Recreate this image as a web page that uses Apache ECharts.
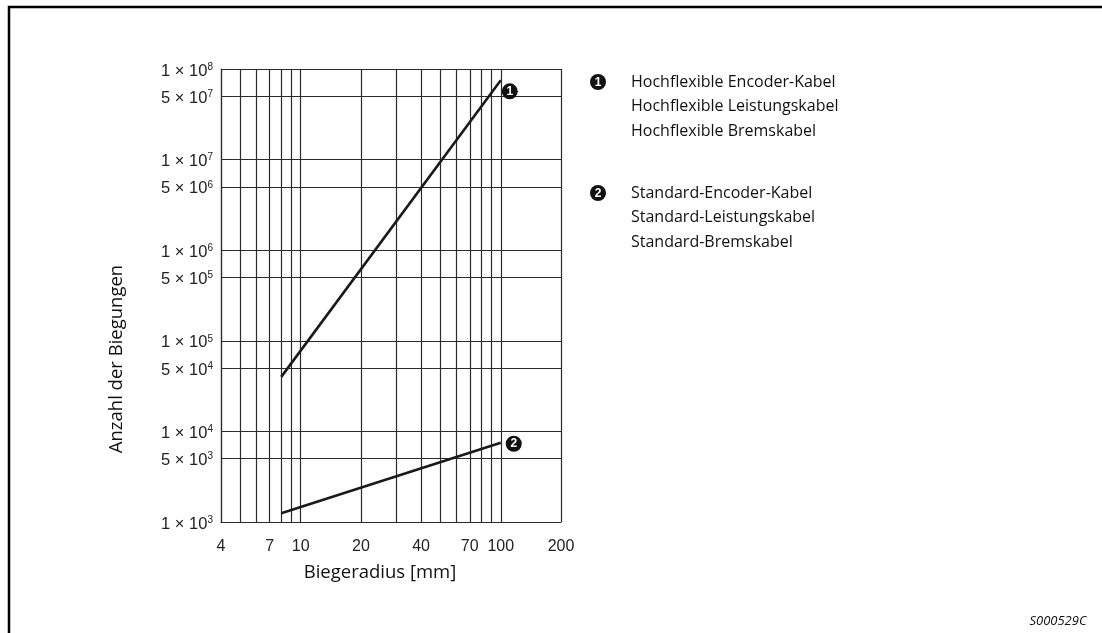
<!DOCTYPE html>
<html>
<head>
<meta charset="utf-8">
<script src="https://cdn.jsdelivr.net/npm/echarts@6/dist/echarts.min.js"></script>
<style>
html,body{margin:0;padding:0;background:#fff;}
#chart{width:1102px;height:633px;}
</style>
</head>
<body>
<div id="chart"></div>
<script>
// ---- data ----
const seriesIds = ['1', '2'];
const seriesNames = [
  ['Hochflexible Encoder-Kabel', 'Hochflexible Leistungskabel', 'Hochflexible Bremskabel'],
  ['Standard-Encoder-Kabel', 'Standard-Leistungskabel', 'Standard-Bremskabel']
];
const radius1 = [8, 100];
const bends1 = [40000, 75000000];
const radius2 = [8, 100];
const bends2 = [1250, 7500];

const xGridValues = [4, 5, 6, 7, 8, 9, 10, 20, 30, 40, 50, 60, 70, 80, 90, 100, 200];
const xTickLabels = [4, 7, 10, 20, 40, 70, 100, 200];
const yGridValues = [1e3, 5e3, 1e4, 5e4, 1e5, 5e5, 1e6, 5e6, 1e7, 5e7, 1e8];

const xTitle = 'Biegeradius [mm]';
const yTitle = 'Anzahl der Biegungen';
const figId = 'S000529C';

// ---- build ----
const gridColor = '#2a2a2a';
const labelFont = '"Liberation Sans", Arial, sans-serif';
const textFont = '"Open Sans", "Noto Sans", sans-serif';

function sciLabel(v) {
  const e = Math.floor(Math.log10(v) + 1e-9);
  const m = Math.round(v / Math.pow(10, e));
  return m + ' × 10{s|' + e + '}';
}

const xMarks = xGridValues.map(v => ({
  xAxis: v,
  label: {
    show: xTickLabels.indexOf(v) >= 0,
    position: 'start',
    distance: 17,
    formatter: String(v),
    color: '#222',
    fontFamily: labelFont,
    fontSize: 16
  }
}));
const yMarks = yGridValues.map(v => ({
  yAxis: v,
  label: {
    show: true,
    position: 'start',
    distance: 8,
    formatter: sciLabel(v),
    color: '#222',
    fontFamily: labelFont,
    fontSize: 16.5,
    lineHeight: 18,
    padding: [4, 0, 0, 0],
    rich: {
      s: { fontSize: 10, fontFamily: labelFont, color: '#222', verticalAlign: 'top', lineHeight: 18 }
    }
  }
}));

function pairs(xs, ys) { return xs.map((x, i) => [x, ys[i]]); }

const lineStyle = { color: '#1a1a1a', width: 2.6 };

function legendBlock(id, names, cx, cy) {
  const lh = 24.5;
  return {
    type: 'group',
    children: [
      { type: 'circle', shape: { cx: cx, cy: cy, r: 8 }, style: { fill: '#111' } },
      { type: 'text', x: cx, y: cy + 0.5, style: { text: id, fill: '#fff', font: 'bold 12px ' + labelFont, align: 'center', verticalAlign: 'middle' } },
      { type: 'text', x: 631, y: cy - lh / 2, style: { text: names.join('\n'), fill: '#111', font: '16px ' + textFont, lineHeight: lh, verticalAlign: 'top' } }
    ]
  };
}

const chart = echarts.init(document.getElementById('chart'));
chart.setOption({
  animation: false,
  backgroundColor: '#fff',
  grid: { left: 221, right: 541, top: 69, bottom: 111, show: false },
  xAxis: {
    type: 'log', logBase: 10, min: 4, max: 200,
    axisLine: { show: true, lineStyle: { color: gridColor, width: 1.2 } },
    axisTick: { show: false }, axisLabel: { show: false }, splitLine: { show: false }, minorSplitLine: { show: false }
  },
  yAxis: {
    type: 'log', logBase: 10, min: 1e3, max: 1e8,
    axisLine: { show: true, lineStyle: { color: gridColor, width: 1.2 } },
    axisTick: { show: false }, axisLabel: { show: false }, splitLine: { show: false }, minorSplitLine: { show: false }
  },
  series: [
    {
      name: seriesNames[0].join(' / '), type: 'line', data: pairs(radius1, bends1),
      symbol: 'none', lineStyle: lineStyle, z: 5, silent: true,
      markLine: {
        silent: true, symbol: ['none', 'none'], animation: false,
        lineStyle: { color: gridColor, width: 1.2, type: 'solid' },
        emphasis: { disabled: true },
        data: xMarks.concat(yMarks)
      }
    },
    {
      name: seriesNames[1].join(' / '), type: 'line', data: pairs(radius2, bends2),
      symbol: 'none', lineStyle: lineStyle, z: 5, silent: true
    },
    {
      type: 'scatter', data: [pairs(radius1, bends1)[1]], symbol: 'circle', symbolSize: 16,
      symbolOffset: [9, 11], itemStyle: { color: '#111', opacity: 1 }, z: 6, silent: true,
      label: { show: true, position: 'inside', formatter: seriesIds[0], color: '#fff', fontWeight: 'bold', fontSize: 12, fontFamily: labelFont }
    },
    {
      type: 'scatter', data: [pairs(radius2, bends2)[1]], symbol: 'circle', symbolSize: 16,
      symbolOffset: [13, 1], itemStyle: { color: '#111', opacity: 1 }, z: 6, silent: true,
      label: { show: true, position: 'inside', formatter: seriesIds[1], color: '#fff', fontWeight: 'bold', fontSize: 12, fontFamily: labelFont }
    }
  ],
  graphic: [
    { type: 'polyline', shape: { points: [[9, 633], [9, 7], [1102, 7]] }, style: { stroke: '#000', lineWidth: 2.5, fill: null } },
    legendBlock(seriesIds[0], seriesNames[0], 598, 82),
    legendBlock(seriesIds[1], seriesNames[1], 598, 193),
    { type: 'text', x: 380, y: 573, style: { text: xTitle, fill: '#111', font: '18.5px ' + textFont, align: 'center', verticalAlign: 'middle' } },
    { type: 'text', x: 117, y: 359, rotation: Math.PI / 2, style: { text: yTitle, fill: '#111', font: '18.5px ' + textFont, align: 'center', verticalAlign: 'middle' } },
    { type: 'text', x: 1058, y: 621, style: { text: figId, fill: '#111', font: 'italic 13px ' + textFont, align: 'center', verticalAlign: 'middle' } }
  ]
});
</script>
</body>
</html>
